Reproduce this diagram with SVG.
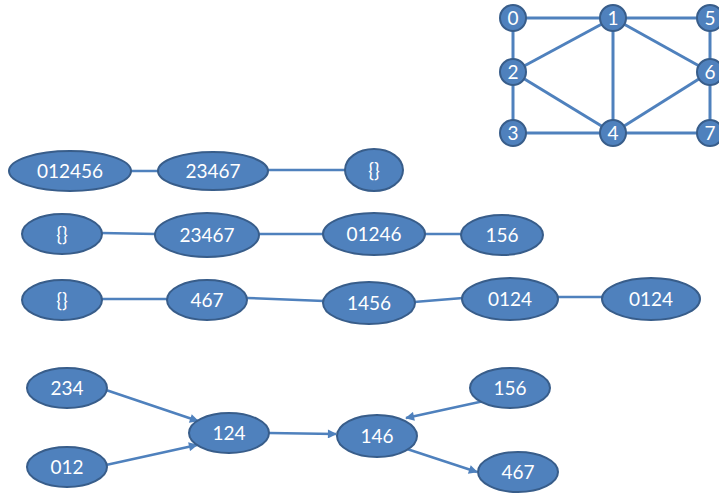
<svg xmlns="http://www.w3.org/2000/svg" width="719" height="495" viewBox="0 0 719 495">
<style>
.n{fill:#4F81BD;stroke:#385D8A;stroke-width:2}
.t{fill:#fff;font-family:Lato,"Liberation Sans",sans-serif;font-size:19px;text-anchor:middle}
.ts{fill:#fff;font-family:Lato,"Liberation Sans",sans-serif;font-size:19px;text-anchor:middle}
.e{stroke:#4F81BD;stroke-width:3;fill:none}
.l{stroke:#4F81BD;stroke-width:2.5;fill:none}
.a{stroke:#4F81BD;stroke-width:2.5;fill:none;marker-end:url(#arr)}
</style>
<defs>
<marker id="arr" viewBox="0 0 10 10" refX="9" refY="5" markerWidth="4.4" markerHeight="3.6" markerUnits="strokeWidth" orient="auto">
<path d="M0,0 L10,5 L0,10 z" fill="#4F81BD"/>
</marker>
</defs>
<rect width="719" height="495" fill="#fff"/>
<g id="connectors">
<line class="e" x1="513" y1="18" x2="613" y2="18"/>
<line class="e" x1="613" y1="18" x2="710" y2="18"/>
<line class="e" x1="513" y1="18" x2="513" y2="72"/>
<line class="e" x1="513" y1="72" x2="513" y2="133"/>
<line class="e" x1="513" y1="133" x2="613" y2="133"/>
<line class="e" x1="613" y1="133" x2="710" y2="133"/>
<line class="e" x1="710" y1="18" x2="710" y2="72"/>
<line class="e" x1="710" y1="72" x2="710" y2="133"/>
<line class="e" x1="613" y1="18" x2="513" y2="72"/>
<line class="e" x1="613" y1="18" x2="613" y2="133"/>
<line class="e" x1="613" y1="18" x2="710" y2="72"/>
<line class="e" x1="513" y1="72" x2="613" y2="133"/>
<line class="e" x1="613" y1="133" x2="710" y2="72"/>
<line class="l" x1="131" y1="171" x2="158" y2="171"/>
<line class="l" x1="268" y1="170" x2="346" y2="170"/>
<line class="l" x1="101" y1="233" x2="156" y2="234"/>
<line class="l" x1="259" y1="234" x2="324" y2="234"/>
<line class="l" x1="424" y1="234" x2="461" y2="234"/>
<line class="l" x1="101" y1="299" x2="168" y2="299"/>
<line class="l" x1="247" y1="298" x2="324" y2="301"/>
<line class="l" x1="414" y1="302" x2="463" y2="298"/>
<line class="l" x1="557" y1="297" x2="603" y2="297"/>
<line class="a" x1="106" y1="390" x2="198" y2="421"/>
<line class="a" x1="106" y1="465" x2="197" y2="445"/>
<line class="a" x1="269" y1="433" x2="336" y2="434"/>
<line class="a" x1="484" y1="401" x2="406" y2="418"/>
<line class="a" x1="404" y1="448" x2="477" y2="472"/>
</g>
<g id="v0"><circle class="n" cx="513" cy="18" r="13"/><text class="ts" x="513" y="25">0</text></g>
<g id="v1"><circle class="n" cx="613" cy="18" r="13"/><text class="ts" x="613" y="25">1</text></g>
<g id="v5"><circle class="n" cx="710" cy="18" r="13"/><text class="ts" x="710" y="25">5</text></g>
<g id="v2"><circle class="n" cx="513" cy="72" r="13"/><text class="ts" x="513" y="79">2</text></g>
<g id="v6"><circle class="n" cx="710" cy="72" r="13"/><text class="ts" x="710" y="79">6</text></g>
<g id="v3"><circle class="n" cx="513" cy="133" r="13"/><text class="ts" x="513" y="140">3</text></g>
<g id="v4"><circle class="n" cx="613" cy="133" r="13"/><text class="ts" x="613" y="140">4</text></g>
<g id="v7"><circle class="n" cx="710" cy="133" r="13"/><text class="ts" x="710" y="140">7</text></g>
<g id="r1a"><ellipse class="n" cx="70" cy="171" rx="61" ry="20"/><text class="t" x="70" y="178">012456</text></g>
<g id="r1b"><ellipse class="n" cx="213" cy="171" rx="55" ry="19"/><text class="t" x="213" y="178">23467</text></g>
<g id="r1c"><ellipse class="n" cx="374" cy="170" rx="29" ry="21"/><text class="t" x="374" y="177">{}</text></g>
<g id="r2a"><ellipse class="n" cx="62" cy="234" rx="40" ry="20"/><text class="t" x="62" y="241">{}</text></g>
<g id="r2b"><ellipse class="n" cx="207" cy="235" rx="52" ry="22"/><text class="t" x="207" y="242">23467</text></g>
<g id="r2c"><ellipse class="n" cx="374" cy="234" rx="51" ry="21"/><text class="t" x="374" y="241">01246</text></g>
<g id="r2d"><ellipse class="n" cx="502" cy="235" rx="41" ry="20"/><text class="t" x="502" y="242">156</text></g>
<g id="r3a"><ellipse class="n" cx="62" cy="300" rx="40" ry="20"/><text class="t" x="62" y="307">{}</text></g>
<g id="r3b"><ellipse class="n" cx="207" cy="300" rx="40" ry="20"/><text class="t" x="207" y="307">467</text></g>
<g id="r3c"><ellipse class="n" cx="369" cy="303" rx="46" ry="21"/><text class="t" x="369" y="310">1456</text></g>
<g id="r3d"><ellipse class="n" cx="510" cy="299" rx="48" ry="21"/><text class="t" x="510" y="306">0124</text></g>
<g id="r3e"><ellipse class="n" cx="651" cy="299" rx="49" ry="21"/><text class="t" x="651" y="306">0124</text></g>
<g id="d234"><ellipse class="n" cx="67" cy="388" rx="40" ry="20"/><text class="t" x="67" y="395">234</text></g>
<g id="d012"><ellipse class="n" cx="67" cy="467" rx="40" ry="20"/><text class="t" x="67" y="474">012</text></g>
<g id="d124"><ellipse class="n" cx="229" cy="433" rx="40" ry="20"/><text class="t" x="229" y="440">124</text></g>
<g id="d146"><ellipse class="n" cx="377" cy="436" rx="40" ry="21"/><text class="t" x="377" y="443">146</text></g>
<g id="d156"><ellipse class="n" cx="510" cy="388" rx="40" ry="20"/><text class="t" x="510" y="395">156</text></g>
<g id="d467"><ellipse class="n" cx="518" cy="472" rx="40" ry="20"/><text class="t" x="518" y="479">467</text></g>
</svg>
